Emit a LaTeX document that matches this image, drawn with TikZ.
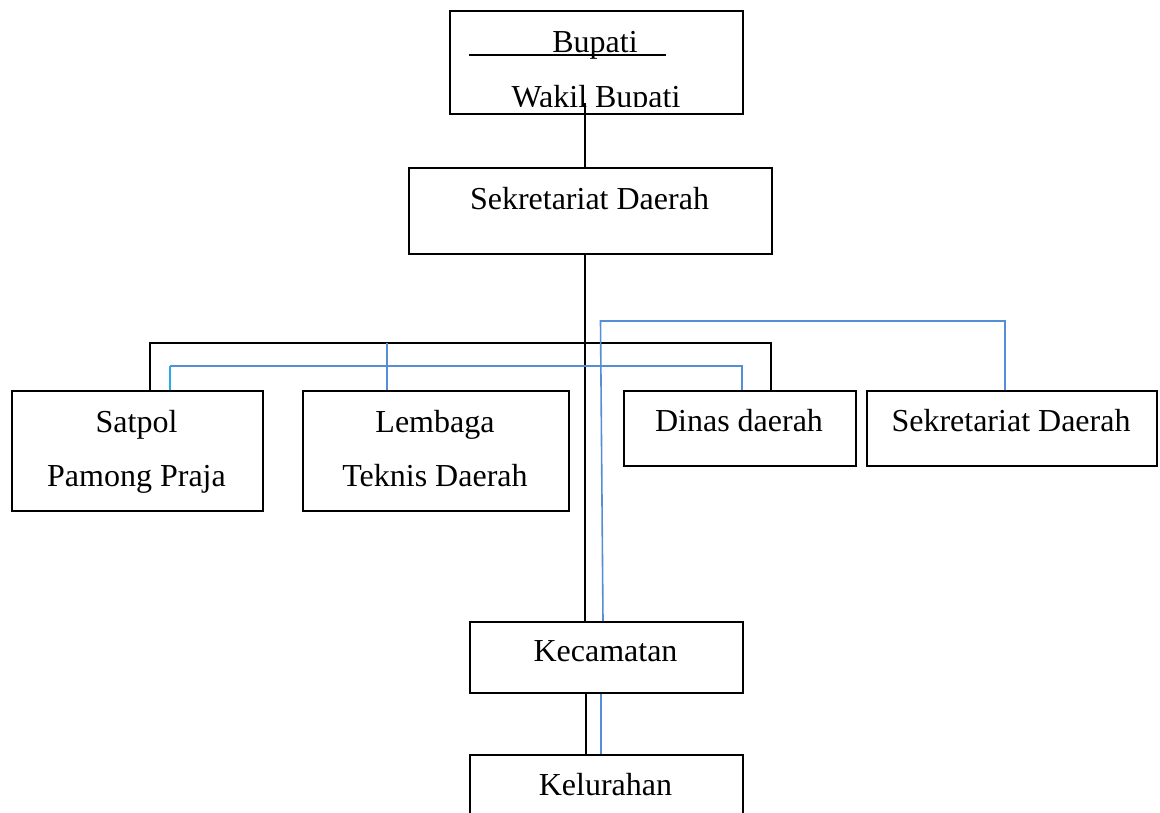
\documentclass[tikz,border=0pt]{standalone}
\usepackage{fontspec}
\setmainfont{Liberation Serif}
\definecolor{lineblue}{RGB}{85,142,213}
\definecolor{linecyan}{RGB}{40,170,235}
\begin{document}
\begin{tikzpicture}[x=1pt,y=-1pt,
  box/.style={draw=black,line width=2pt,rectangle,inner sep=0pt,anchor=north west},
  lbl/.style={anchor=base,inner sep=0pt,font=\fontsize{32}{38}\selectfont},
  blk/.style={draw=black,line width=2pt},
  blu/.style={draw=lineblue,line width=1.6pt}]
\useasboundingbox[fill=white] (0,0) rectangle (1160,812);

% boxes
\node[box,minimum width=293pt,minimum height=103pt] (top) at (449,10) {};
\node[box,minimum width=363pt,minimum height=86pt] (sek) at (408,167) {};
\node[box,minimum width=251pt,minimum height=120pt] (satpol) at (11,390) {};
\node[box,minimum width=266pt,minimum height=120pt] (lemb) at (302,390) {};
\node[box,minimum width=232pt,minimum height=75pt] (dinas) at (623,390) {};
\node[box,minimum width=290pt,minimum height=75pt] (sek2) at (866,390) {};
\node[box,minimum width=273pt,minimum height=71pt] (kec) at (469,621) {};
\node[box,minimum width=273pt,minimum height=80pt] (kel) at (469,754) {};

% texts
\node[lbl] (tbup) at (595,52) {Bupati};
\draw[black,line width=1.5pt] (469,55) -- (666,55);
\begin{scope}
  \clip (450,11) rectangle (741,106);
  \node[lbl] (twak) at (596,107) {Wakil Bupati};
\end{scope}
\node[lbl] (tsek) at (589.5,209) {Sekretariat Daerah};
\node[lbl] (tsat1) at (136.5,432) {Satpol};
\node[lbl] (tsat2) at (136.5,486) {Pamong Praja};
\node[lbl] (tlem1) at (435,432) {Lembaga};
\node[lbl] (tlem2) at (435,486) {Teknis Daerah};
\node[lbl] (tdin) at (739,431) {Dinas daerah};
\node[lbl] (tsek2) at (1011,431) {Sekretariat Daerah};
\node[lbl] (tkec) at (605.5,661) {Kecamatan};
\node[lbl] (tkel) at (605.5,795) {Kelurahan};

% connectors
\coordinate (tb) at (585,103);
\draw[blk] (tb) -- (tb |- sek.north);
\draw[blk] (sek.south -| 585,0) -- (kec.north -| 585,0);
\draw[blk] (satpol.north -| 150,0) -- (150,343) -- (771,343) -- (dinas.north -| 771,0);
\draw[blu] (lemb.north -| 387,0) -- (387,343);
\draw[blu] (170,366) -- (742,366) -- (dinas.north -| 742,0);
\draw[blu,draw=linecyan] (satpol.north -| 170,0) -- (170,366);
\draw[blu] (kec.north -| 603,0) -- (600.5,321) -- (1005,321) -- (sek2.north -| 1005,0);
\draw[blk] (kec.south -| 586,0) -- (kel.north -| 586,0);
\draw[blu] (kec.south -| 601,0) -- (kel.north -| 601,0);
\end{tikzpicture}
\end{document}
